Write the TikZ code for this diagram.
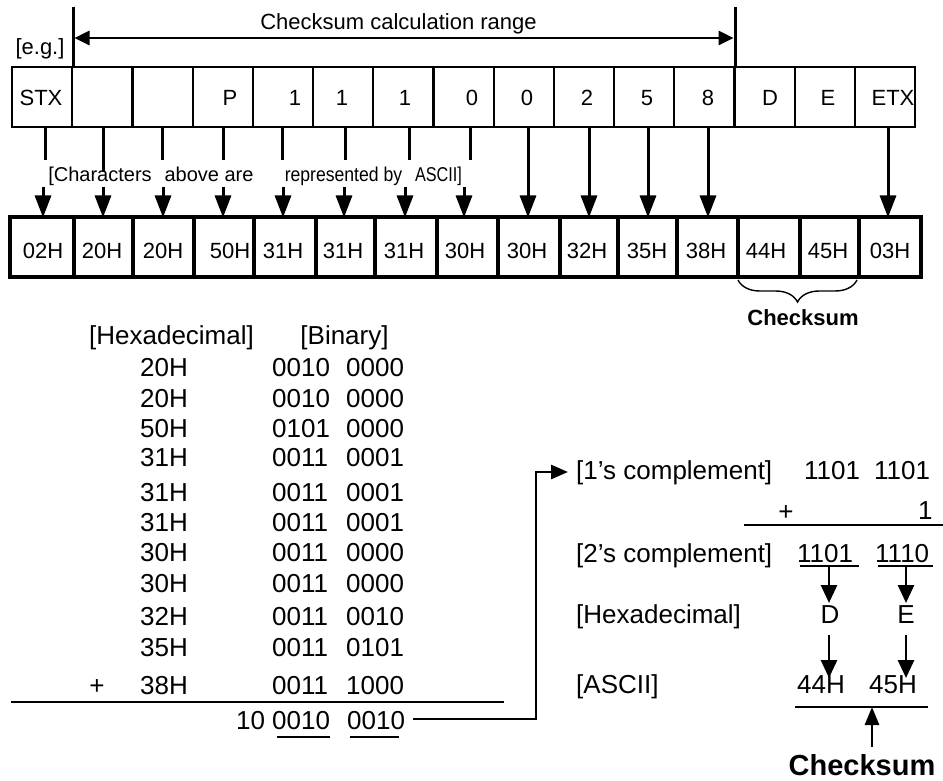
\documentclass[tikz,border=0pt]{standalone}
\usepackage{fontspec}
\setmainfont{Liberation Sans}
\usetikzlibrary{arrows.meta,decorations.pathreplacing}
\begin{document}
\begin{tikzpicture}[x=1pt,y=-1pt,
  lbl/.style={inner sep=0pt, outer sep=0pt, anchor=base, font=\fontsize{22}{26}\selectfont},
  sml/.style={inner sep=0pt, anchor=base, font=\fontsize{20}{24}\selectfont},
  big/.style={inner sep=0pt, anchor=base west, font=\fontsize{26}{30}\selectfont},
  bigc/.style={inner sep=0pt, anchor=base, font=\fontsize{26}{30}\selectfont},
  topcell/.style={draw, line width=2.2pt, minimum width=60.2pt, minimum height=60pt, inner sep=0pt, outer sep=0pt},
  botcell/.style={draw, line width=3.2pt, minimum height=60pt, inner sep=0pt, outer sep=0pt},
  stem/.style={line width=3pt},
  arr/.style={line width=3pt, -{Triangle[length=22pt,width=16pt]}},
  arrs/.style={line width=2.8pt, -{Triangle[length=18pt,width=16pt]}},
  rule/.style={line width=2.8pt},
]
\useasboundingbox (0,0) rectangle (943,781);

% ---- range marker
\node[lbl] (eg) at (40,55) {[e.g.]};
\coordinate (rt1) at (73,7);  \coordinate (rb1) at (73,67);
\coordinate (rt2) at (735,7); \coordinate (rb2) at (735,67);
\draw[line width=3pt] (rt1) -- (rb1);
\draw[line width=3pt] (rt2) -- (rb2);
\coordinate (ra) at (74.5,38); \coordinate (rb) at (733.5,38);
\draw[line width=2.8pt, {Triangle[length=15pt,width=14pt]}-{Triangle[length=15pt,width=14pt]}] (ra) -- (rb);
\node[lbl] (range) at (398.5,30) {Checksum calculation range};

% ---- top cells
\foreach \i in {1,...,15}
  \node[topcell] (t\i) at ({12+60.2*(\i-0.5)},97) {};
\foreach \s/\x [count=\i] in {STX/41, P/230, 1/295, 1/342, 1/405, 0/472, 0/527, 2/587, 5/647, 8/708, D/770, E/828, ETX/893}
  \node[lbl] (tl\i) at (\x,106) {\s};

% ---- bottom cells
\foreach \a/\b [count=\i] in {10/74,74/133,133/194,194/254,254/316,316/375,375/437,437/498,498/560,560/618,618/677,677/738,738/800,800/859,859/921}
  \node[botcell, minimum width={(\b-\a)*1pt}] (b\i) at ({(\a+\b)/2},247) {};
\foreach \s/\x [count=\i] in {02H/43,20H/102,20H/163,50H/230,31H/283,31H/343,31H/404,30H/465,30H/527,32H/587,35H/647,38H/706,44H/766,45H/828,03H/890}
  \node[lbl] (bl\i) at (\x,258) {\s};

% ---- arrows between rows
\foreach \x/\e in {45/160,103/172,162/160,223/160,282/160,345/160,409/160,470/160}
  \draw[stem] (\x,127) -- (\x,\e);
\foreach \x in {43,103,163,223,283,344,405,464}
  \draw[arr] (\x,187) -- (\x,217.5);
\foreach \x in {528,589,648,708,888}
  \draw[arr] (\x,127) -- (\x,217.5);

\node[sml] (n1) at (100,182) {[Characters};
\node[sml] (n2) at (209,182) {above are};
\node[sml] (n3) at (343.5,182) {\scalebox{0.88}[1]{represented by}};
\node[sml] (n4) at (438.5,182) {\scalebox{0.81}[1]{ASCII]}};

% ---- brace
\draw[line width=1.4pt, decorate, decoration={brace, amplitude=22pt, mirror}] (b13.south west) ++(0,3) -- (857,280);
\node[lbl, font=\fontsize{22}{26}\selectfont\bfseries] (cs1) at (803,325) {Checksum};

% ---- addition table
\node[bigc] (hh) at (171.5,344) {[Hexadecimal]};
\node[bigc] (hb) at (344.5,344) {[Binary]};
\foreach \h/\p/\q/\y [count=\i] in {20H/0010/0000/376, 20H/0010/0000/407, 50H/0101/0000/437, 31H/0011/0001/466, 31H/0011/0001/501, 31H/0011/0001/531, 30H/0011/0000/561, 30H/0011/0000/592, 32H/0011/0010/625, 35H/0011/0101/656, 38H/0011/1000/694}
{
  \node[big] (h\i) at (140,\y) {\h};
  \node[big] (p\i) at (272,\y) {\p};
  \node[big] (q\i) at (346,\y) {\q};
}
\node[bigc] (plus1) at (97,694) {+};
\coordinate (sl1) at (11,702); \coordinate (sl2) at (504,702);
\draw[rule] (sl1) -- (sl2);
\node[big] (s0) at (236,729) {10};
\node[big] (s1) at (272,729) {0010};
\node[big] (s2) at (347,729) {0010};
\draw[rule] (277,737) -- (330,737);
\draw[rule] (350,737) -- (399,737);

% ---- right side
\node[big] (c1) at (576,479) {[1\char39 s complement]};
\node[big] (c1a) at (804,479) {1101};
\node[big] (c1b) at (874,479) {1101};
\node[bigc] (plus2) at (786,520) {+};
\node[big] (one) at (918,519) {1};
\draw[rule] (744,525) -- (943,525);

\coordinate (k1) at (413,719); \coordinate (k2) at (536,719);
\coordinate (k3) at (536,472); \coordinate (k4) at (568,472);
\draw[line width=2.8pt, -{Triangle[length=17pt,width=14pt]}] (k1) -- (k2) -- (k3) -- (k4);

\node[big] (c2) at (576,562) {[2\char39 s complement]};
\node[big] (c2a) at (797,562) {1101};
\node[big] (c2b) at (875,562) {1110};
\draw[rule] (800,566) -- (859,566);
\draw[rule] (878,566) -- (933,566);

\node[big] (hx) at (576,623) {[Hexadecimal]};
\node[bigc] (dd) at (830,623) {D};
\node[bigc] (ee) at (906,623) {E};
\draw[arrs] (829,567) -- (829,603);
\draw[arrs] (906,567) -- (906,603);

\node[big] (as) at (576,693) {[ASCII]};
\node[bigc] (a44) at (821,693) {44H};
\node[bigc] (a45) at (893,693) {45H};
\draw[arrs] (829,635) -- (829,678);
\draw[arrs] (906,635) -- (906,678);
\draw[rule] (795,707) -- (928,707);
\node[inner sep=0pt, anchor=base, font=\fontsize{29}{34}\selectfont\bfseries] (cs2) at (862,775) {Checksum};
\draw[line width=2.8pt, -{Triangle[length=18pt,width=14pt]}] (872,747) -- (872,707);
\end{tikzpicture}
\end{document}
